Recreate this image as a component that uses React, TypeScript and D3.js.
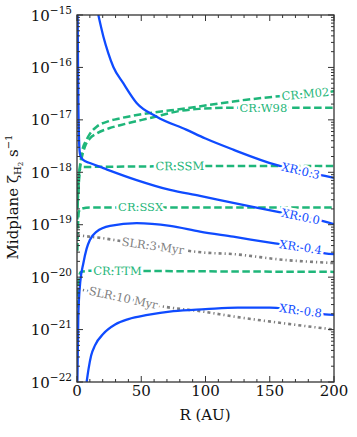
import React from "react";
import * as d3 from "d3";

// R in AU, midplane ionisation rate in s^-1
const xr03R = [16.6, 20.5, 24.4, 28.3, 36, 46.4, 62, 85, 100, 121.6, 155, 175, 193, 200];
const xr03V = [1.0e-15, 3.9e-16, 1.86e-16, 1.02e-16, 5.0e-17, 2.1e-17, 1.15e-17, 6.5e-18, 4.4e-18, 2.7e-18, 1.38e-18, 1.05e-18, 8.5e-19, 7.8e-19];

const xr00R = [0.5, 1.0, 2.0, 2.8, 3.6, 5, 10, 20.5, 46.4, 72.4, 95.7, 121.6, 155.4, 175, 193, 200];
const xr00V = [1.0e-15, 2.4e-17, 2.6e-18, 2.0e-18, 1.86e-18, 1.7e-18, 1.5e-18, 1.2e-18, 7.1e-19, 4.6e-19, 3.55e-19, 2.6e-19, 1.78e-19, 1.41e-19, 1.15e-19, 1.02e-19];

const xrm04R = [0.3, 1, 2.5, 4.9, 7.5, 10, 15.3, 25.7, 46.4, 72.4, 95.7, 121.6, 154, 175, 193, 200];
const xrm04V = [1e-22, 1.78e-21, 7.9e-21, 1.82e-20, 3.5e-20, 5.1e-20, 7.4e-20, 9.5e-20, 1.07e-19, 9.5e-20, 7.4e-20, 5.9e-20, 4.4e-20, 3.7e-20, 2.85e-20, 2.75e-20];

const xrm08R = [7.5, 9, 11, 14, 20.5, 30, 40, 55, 75, 100, 125, 150, 165, 180, 193, 200];
const xrm08V = [1e-22, 1.78e-22, 3.2e-22, 5.0e-22, 8.3e-22, 1.26e-21, 1.58e-21, 1.9e-21, 2.24e-21, 2.45e-21, 2.63e-21, 2.63e-21, 2.45e-21, 2.19e-21, 1.95e-21, 1.9e-21];

const m02R = [0.5, 1.2, 2.3, 4, 7.5, 10, 15.3, 25, 33.5, 59.4, 85.3, 101, 121.6, 152.8, 177, 200];
const m02V = [2.5e-19, 6.3e-19, 1.29e-18, 2.5e-18, 4.2e-18, 5.4e-18, 7.4e-18, 9.5e-18, 1.07e-17, 1.38e-17, 1.66e-17, 1.9e-17, 2.24e-17, 2.75e-17, 3.1e-17, 3.5e-17];

const w98R = [1, 2, 3.5, 6.2, 10, 15.3, 25, 33.5, 59.4, 80, 95, 120, 150, 200];
const w98V = [4.0e-19, 1.0e-18, 1.78e-18, 3.1e-18, 4.4e-18, 5.5e-18, 6.9e-18, 7.9e-18, 1.12e-17, 1.48e-17, 1.62e-17, 1.7e-17, 1.7e-17, 1.7e-17];

const ssmR = [0.3, 0.8, 1.5, 2.5, 5, 50, 100, 150, 200];
const ssmV = [1.26e-19, 4.0e-19, 8.9e-19, 1.17e-18, 1.26e-18, 1.29e-18, 1.32e-18, 1.32e-18, 1.32e-18];

const ssxR = [0.3, 0.8, 1.5, 3, 10, 100, 200];
const ssxV = [3.2e-20, 1.0e-19, 1.78e-19, 2.0e-19, 2.14e-19, 2.14e-19, 2.14e-19];

const ttmR = [0.3, 0.8, 1.5, 3, 10, 100, 200];
const ttmV = [1.6e-21, 5.0e-21, 1.0e-20, 1.26e-20, 1.32e-20, 1.29e-20, 1.26e-20];

const slr3R = [0, 20.5, 45, 72.4, 98.3, 121.6, 160.5, 200];
const slr3V = [6.3e-20, 5.5e-20, 4.4e-20, 3.55e-20, 2.95e-20, 2.75e-20, 2.14e-20, 1.86e-20];

const slr10R = [0, 36, 67, 98.3, 121.6, 160.5, 200];
const slr10V = [6.0e-21, 4.0e-21, 2.75e-21, 2.2e-21, 1.78e-21, 1.32e-21, 1.0e-21];

const xTicks = [0, 50, 100, 150, 200];
const yExps = [-22, -21, -20, -19, -18, -17, -16, -15];

const BLUE = "#0f4bff";
const GREEN = "#1fb67a";
const GREY = "#7f7f7f";

const series = [
  { name: "CR:M02", r: m02R, v: m02V, color: GREEN, kind: "cr", at: 177.8 },
  { name: "CR:W98", r: w98R, v: w98V, color: GREEN, kind: "cr", at: 145 },
  { name: "CR:SSM", r: ssmR, v: ssmV, color: GREEN, kind: "cr", at: 80 },
  { name: "CR:SSX", r: ssxR, v: ssxV, color: GREEN, kind: "cr", at: 49.5 },
  { name: "CR:TTM", r: ttmR, v: ttmV, color: GREEN, kind: "cr", at: 31.5 },
  { name: "SLR:3 Myr", r: slr3R, v: slr3V, color: GREY, kind: "slr", at: 59 },
  { name: "SLR:10 Myr", r: slr10R, v: slr10V, color: GREY, kind: "slr", at: 36 },
  { name: "XR:0.3", r: xr03R, v: xr03V, color: BLUE, kind: "xr", at: 174 },
  { name: "XR:0.0", r: xr00R, v: xr00V, color: BLUE, kind: "xr", at: 174 },
  { name: "XR:-0.4", r: xrm04R, v: xrm04V, color: BLUE, kind: "xr", at: 174 },
  { name: "XR:-0.8", r: xrm08R, v: xrm08V, color: BLUE, kind: "xr", at: 174 },
];

const dash: Record<string, string | undefined> = {
  cr: "7.5 3.5",
  slr: "3 3 1.2 3",
  xr: undefined,
};

const FONT = "DejaVu Serif";

export default function App() {
  const x = d3.scaleLinear().domain([0, 200]).range([77, 334]);
  const y = d3.scaleLog().domain([1e-22, 1e-15]).range([382, 15]);
  const [x0, x1] = x.range();
  const [y0, y1] = y.range();

  const line = d3
    .line<[number, number]>()
    .x((d) => x(d[0]))
    .y((d) => y(d[1]))
    .curve(d3.curveMonotoneX);

  // position + angle of an inline label on a series
  const place = (r: number[], v: number[], R: number) => {
    let i = d3.bisectRight(r, R) - 1;
    i = Math.max(0, Math.min(r.length - 2, i));
    const ax = x(r[i]), bx = x(r[i + 1]);
    const ay = y(v[i]), by = y(v[i + 1]);
    const t = (x(R) - ax) / (bx - ax);
    const py = ay + t * (by - ay);
    const ang = (Math.atan2(by - ay, bx - ax) * 180) / Math.PI;
    return { px: x(R), py, ang };
  };

  const minorY: number[] = [];
  for (let e = -22; e < -15; e++) for (let k = 2; k <= 9; k++) minorY.push(k * Math.pow(10, e));
  const minorX = d3.range(0, 201, 10).filter((d) => d % 50 !== 0);

  return (
    <svg
      width={357}
      height={437}
      style={{ position: "absolute", left: 0, top: 0, background: "white" }}
      fontFamily={FONT}
    >
      <defs>
        <clipPath id="plot">
          <rect x={x0} y={y1} width={x1 - x0} height={y0 - y1} />
        </clipPath>
      </defs>

      <g clipPath="url(#plot)">
        {series.map((s) => (
          <path
            key={s.name}
            d={line(s.r.map((r, i) => [r, s.v[i]] as [number, number])) || ""}
            fill="none"
            stroke={s.color}
            strokeWidth={s.kind === "slr" ? 2.6 : s.kind === "cr" ? 2.5 : 2.3}
            strokeDasharray={dash[s.kind]}
          />
        ))}
      </g>

      {series.map((s) => {
        const p = place(s.r, s.v, s.at);
        return (
          <text
            key={s.name + "-lbl"}
            transform={`translate(${p.px},${p.py}) rotate(${p.ang})`}
            textAnchor="middle"
            dominantBaseline="central"
            fontSize={11.5}
            fill={s.color}
            stroke="white"
            strokeWidth={5}
            strokeLinejoin="round"
            paintOrder="stroke"
          >
            {s.name}
          </text>
        );
      })}

      {/* frame */}
      <rect x={x0} y={y1} width={x1 - x0} height={y0 - y1} fill="none" stroke="#333" strokeWidth={1.3} />

      {/* ticks, inward on all sides */}
      <g stroke="#333" strokeWidth={1}>
        {xTicks.map((t) => (
          <g key={"xt" + t}>
            <line x1={x(t)} x2={x(t)} y1={y0} y2={y0 - 6} />
            <line x1={x(t)} x2={x(t)} y1={y1} y2={y1 + 6} />
          </g>
        ))}
        {minorX.map((t) => (
          <g key={"xm" + t}>
            <line x1={x(t)} x2={x(t)} y1={y0} y2={y0 - 3} />
            <line x1={x(t)} x2={x(t)} y1={y1} y2={y1 + 3} />
          </g>
        ))}
        {yExps.map((e) => (
          <g key={"yt" + e}>
            <line x1={x0} x2={x0 + 6} y1={y(Math.pow(10, e))} y2={y(Math.pow(10, e))} />
            <line x1={x1} x2={x1 - 6} y1={y(Math.pow(10, e))} y2={y(Math.pow(10, e))} />
          </g>
        ))}
        {minorY.map((v, i) => (
          <g key={"ym" + i}>
            <line x1={x0} x2={x0 + 3} y1={y(v)} y2={y(v)} />
            <line x1={x1} x2={x1 - 3} y1={y(v)} y2={y(v)} />
          </g>
        ))}
      </g>

      {/* tick labels */}
      <g fill="#111" fontSize={15}>
        {xTicks.map((t) => (
          <text key={"xl" + t} x={x(t)} y={396} textAnchor="middle">
            {t}
          </text>
        ))}
        {yExps.map((e) => (
          <text key={"yl" + e} x={72} y={y(Math.pow(10, e)) + 5.5} textAnchor="end">
            10
            <tspan fontSize={10.5} dy={-7}>
              {"\u2212" + Math.abs(e)}
            </tspan>
          </text>
        ))}
      </g>

      {/* axis titles */}
      <text x={205} y={420} textAnchor="middle" fontSize={15} fill="#111">
        R (AU)
      </text>
      <text transform="translate(18,197) rotate(-90)" textAnchor="middle" fontSize={15} fill="#111">
        Midplane ζ
        <tspan fontSize={10} dy={3}>H</tspan>
        <tspan fontSize={7} dy={2}>2</tspan>
        <tspan fontSize={15} dy={-5}>{" s"}</tspan>
        <tspan fontSize={10} dy={-6}>{"\u22121"}</tspan>
      </text>
    </svg>
  );
}
